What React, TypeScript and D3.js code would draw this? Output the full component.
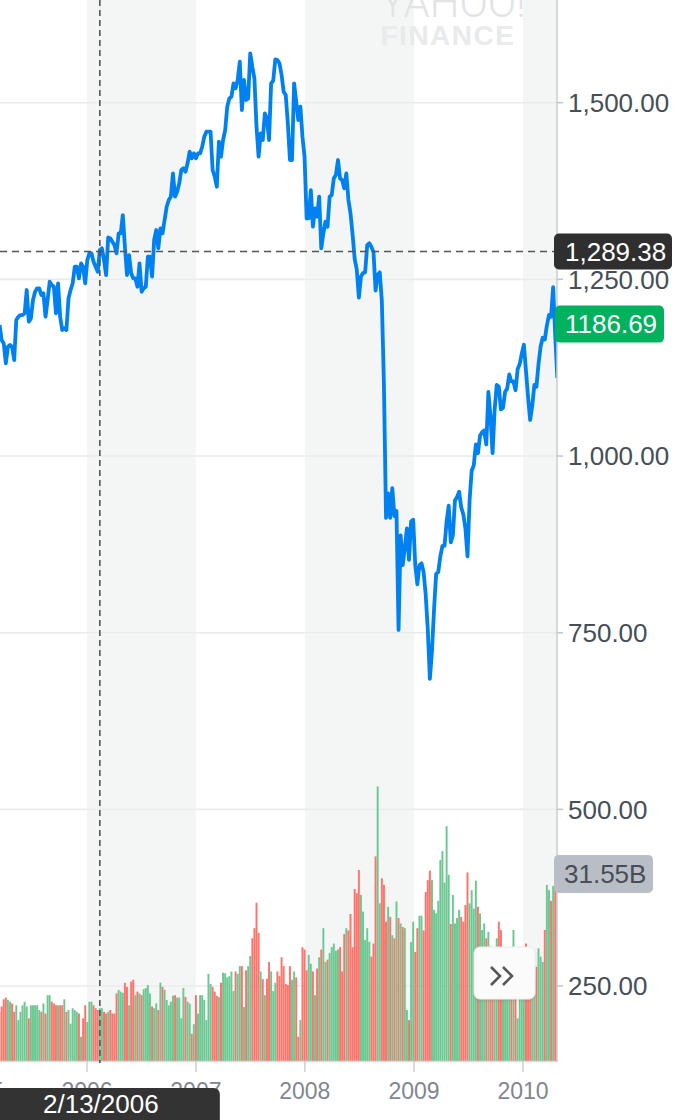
import React from "react";
import * as d3 from "d3";

// Weekly closes (index 0 = week of 2005-03-14)
const closes: number[] = [
  1185.4, 1164.2, 1159.4, 1131.1, 1154.7, 1157.1, 1154.7, 1135.8, 1192.5, 1197.2,
  1199.5, 1199.5, 1201.9, 1234.9, 1190.1, 1194.8, 1220.8, 1232.5, 1237.3, 1237.3,
  1227.8, 1230.2, 1197.2, 1220.8, 1246.7, 1242.0, 1239.6, 1201.9, 1244.3, 1197.2,
  1178.3, 1180.7, 1178.3, 1223.1, 1234.9, 1244.3, 1267.9, 1267.9, 1251.4, 1272.6,
  1267.9, 1244.3, 1277.4, 1286.8, 1286.8, 1275.0, 1267.9, 1260.8, 1291.5, 1293.9,
  1277.4, 1256.1, 1309.4, 1308.0, 1303.3, 1298.6, 1286.8, 1315.1, 1315.1, 1341.0,
  1296.2, 1256.1, 1284.4, 1258.5, 1251.4, 1251.4, 1239.6, 1272.6, 1232.5, 1237.3,
  1239.6, 1282.1, 1282.1, 1253.8, 1305.7, 1319.8, 1293.9, 1322.2, 1315.1, 1334.0,
  1352.8, 1362.3, 1367.0, 1400.0, 1367.0, 1374.1, 1385.8, 1404.7, 1407.1, 1402.4,
  1414.2, 1430.7, 1421.2, 1428.3, 1421.2, 1428.3, 1428.3, 1437.7, 1451.9, 1459.0,
  1459.0, 1459.0, 1404.7, 1395.3, 1381.1, 1444.8, 1423.6, 1447.2, 1461.3, 1494.3,
  1506.1, 1508.5, 1527.4, 1520.3, 1532.1, 1558.0, 1489.6, 1532.1, 1503.8, 1506.1,
  1569.8, 1550.9, 1534.4, 1466.0, 1423.6, 1456.6, 1447.2, 1484.9, 1477.8, 1447.2,
  1527.4, 1531.1, 1561.3, 1560.4, 1555.7, 1539.2, 1515.6, 1510.8, 1470.8, 1418.9,
  1418.9, 1527.4, 1501.4, 1475.5, 1494.3, 1451.9, 1423.6, 1336.3, 1336.3, 1376.4,
  1324.5, 1350.5, 1338.7, 1367.0, 1293.9, 1315.1, 1331.6, 1324.5, 1367.0, 1369.3,
  1392.9, 1397.6, 1418.9, 1392.9, 1390.6, 1378.8, 1400.0, 1362.3, 1343.4, 1313.4,
  1278.7, 1263.9, 1224.3, 1254.0, 1258.9, 1259.9, 1298.5, 1301.0, 1296.0, 1288.6,
  1234.2, 1256.4, 1259.9, 1219.3, 1100.5, 912.4, 947.1, 912.4, 954.5, 914.9,
  922.3, 754.0, 887.7, 845.6, 870.3, 897.6, 853.0, 907.5, 909.9, 845.6,
  818.4, 845.6, 848.1, 835.7, 803.5, 754.0, 684.7, 724.3, 783.7, 833.2,
  835.7, 858.0, 872.8, 872.8, 907.5, 929.7, 877.8, 887.7, 937.2, 942.1,
  949.5, 927.3, 917.4, 897.6, 858.0, 937.2, 979.2, 986.7, 1016.4, 1004.0,
  1028.7, 1033.7, 1036.2, 1016.4, 1090.6, 1056.0, 1004.0, 1065.9, 1100.5, 1098.0,
  1065.9, 1068.3, 1090.6, 1095.6, 1115.4, 1105.5, 1105.5, 1093.1, 1122.8, 1130.2,
  1145.1, 1157.4, 1120.3, 1083.2, 1051.0, 1070.8, 1100.5, 1098.0, 1130.2, 1155.0,
  1167.3, 1164.9, 1184.7, 1199.5, 1197.0, 1239.1, 1169.8, 1110.4,
];

// Weekly volume in billions
const volumes: number[] = [
  8.3, 9.2, 10.4, 10.7, 10.3, 10.0, 9.7, 8.3, 9.4, 6.9,
  8.3, 9.4, 10.0, 9.2, 7.2, 9.4, 9.4, 9.4, 9.4, 8.6,
  8.3, 9.7, 8.0, 11.1, 11.1, 10.0, 9.7, 9.4, 9.4, 9.4,
  9.4, 10.4, 8.3, 8.6, 6.3, 8.9, 8.6, 8.3, 8.0, 4.1,
  7.2, 9.4, 6.6, 10.0, 10.0, 9.4, 8.9, 8.6, 8.9, 8.9,
  8.3, 8.0, 8.3, 8.6, 8.0, 8.0, 11.4, 12.0, 11.7, 11.5,
  13.2, 12.5, 9.4, 13.4, 13.7, 11.1, 11.7, 11.4, 11.1, 12.1,
  12.3, 12.8, 11.4, 9.2, 8.9, 9.7, 8.6, 13.2, 12.5, 12.0,
  10.3, 9.4, 10.0, 11.0, 11.1, 10.7, 10.7, 7.2, 12.3, 10.8,
  10.0, 9.7, 4.6, 6.2, 11.1, 8.0, 11.1, 11.1, 10.3, 6.9,
  14.7, 13.0, 12.5, 11.7, 11.0, 10.8, 13.2, 14.9, 14.8, 14.1,
  14.3, 15.1, 11.8, 15.1, 14.7, 16.0, 16.0, 9.1, 15.3, 16.0,
  17.7, 20.7, 22.4, 26.7, 21.6, 15.1, 13.8, 11.1, 13.9, 16.7,
  15.1, 11.8, 13.2, 15.1, 14.3, 17.5, 16.0, 13.0, 12.8, 16.0,
  13.7, 15.1, 14.1, 4.1, 6.9, 19.2, 18.8, 15.3, 17.9, 16.4,
  15.1, 11.1, 15.6, 17.5, 18.8, 22.4, 16.7, 17.1, 18.2, 19.2,
  19.8, 18.6, 18.8, 19.2, 15.1, 21.4, 22.4, 22.0, 24.8, 19.2,
  29.0, 28.3, 32.2, 28.0, 25.2, 20.4, 22.4, 20.1, 17.6, 19.8,
  34.5, 46.3, 26.6, 30.8, 29.7, 23.5, 26.0, 24.3, 21.2, 20.7,
  26.9, 24.1, 23.2, 22.6, 22.4, 8.6, 6.9, 20.1, 23.5, 18.4,
  22.4, 24.5, 24.5, 22.0, 28.5, 30.5, 32.1, 30.5, 25.5, 24.9,
  27.0, 33.9, 35.4, 30.1, 39.6, 31.4, 23.1, 28.0, 23.2, 24.1,
  25.5, 24.3, 23.5, 26.3, 31.8, 26.6, 28.8, 25.7, 30.4, 26.0,
  24.9, 22.1, 23.2, 20.7, 21.8, 19.3, 16.5, 18.0, 20.7, 23.5,
  22.1, 16.0, 17.5, 14.5, 15.5, 17.0, 22.1, 15.0, 7.2, 15.9,
  17.0, 14.0, 19.8, 16.0, 15.0, 17.0, 13.7, 15.9, 19.0, 17.6,
  16.7, 22.1, 29.7, 28.8, 27.0, 29.5, 31.2, 31.55,
];

const priceTicks: number[] = [1500, 1250, 1000, 750, 500, 250];
const yearTicks: number[] = [2005, 2006, 2007, 2008, 2009, 2010];
const shadedYears: number[] = [2006, 2008, 2010];

const crosshairDate = new Date(2006, 1, 13);
const crosshairLabel = "2/13/2006";
const crosshairValue = 1289.38;
const lastPrice = 1186.69;
const lastVolumeLabel = "31.55B";

const W = 689;
const H = 1120;
const RIGHT = 557;
const VOL_BOTTOM = 1061;
const TAG_X = 554;
const FONT = "'Liberation Sans', Arial, Helvetica, sans-serif";

const dates = closes.map((_, i) => new Date(2005, 2, 14 + 7 * i));

export default function App() {
  const x = d3
    .scaleTime()
    .domain([new Date(2006, 0, 1), new Date(2010, 0, 1)])
    .range([87, 523]);
  const y = d3.scaleLinear().domain([250, 1500]).range([986, 102.7]);
  const v = d3.scaleLinear().domain([0, 50]).range([VOL_BOTTOM, VOL_BOTTOM - 296.5]);
  const fmt = d3.format(",.2f");

  const line = d3
    .line<number>()
    .x((_, i) => x(dates[i]))
    .y((d) => y(d));

  const barW = 1.95;
  const cx = x(crosshairDate);
  const cy = y(crosshairValue);
  const gy = y(lastPrice);
  const vy = v(volumes[volumes.length - 1]);

  return (
    <svg
      width={W}
      height={H}
      style={{ position: "absolute", left: 0, top: 0, background: "#fff" }}
      fontFamily={FONT}
    >
      <defs>
        <clipPath id="plot">
          <rect x={0} y={0} width={RIGHT} height={VOL_BOTTOM} />
        </clipPath>
        <filter id="shadow" x="-20%" y="-20%" width="140%" height="140%">
          <feDropShadow dx="0" dy="1" stdDeviation="1.5" floodColor="#000" floodOpacity="0.12" />
        </filter>
      </defs>
      <rect x={0} y={0} width={W} height={H} fill="#fff" />
      {/* year bands */}
      <g clipPath="url(#plot)">
        {shadedYears.map((yr) => (
          <rect
            key={yr}
            x={x(new Date(yr, 0, 1))}
            y={0}
            width={x(new Date(yr + 1, 0, 1)) - x(new Date(yr, 0, 1))}
            height={VOL_BOTTOM}
            fill="#f4f6f6"
          />
        ))}
      </g>
      {/* watermark */}
      <text x={453} y={17} textAnchor="middle" fontSize={42} fontFamily="Roboto, sans-serif" fontWeight={300} fill="#e2e3e5">
        YAHOO!
      </text>
      <text x={448} y={45} textAnchor="middle" fontSize={28} fontWeight={700} letterSpacing={1.5} fill="#e9eaec">
        FINANCE
      </text>
      {/* grid */}
      {priceTicks.map((t) => (
        <line key={t} x1={0} x2={RIGHT} y1={y(t)} y2={y(t)} stroke="#ebebeb" strokeWidth={1.6} />
      ))}
      {/* volume bars */}
      <g clipPath="url(#plot)">
        {volumes.map((vol, i) => {
          const up = i === 0 ? true : closes[i] >= closes[i - 1];
          return (
            <rect
              key={i}
              x={x(dates[i]) - barW / 2}
              y={v(vol)}
              width={barW}
              height={VOL_BOTTOM - v(vol)}
              fill={up ? "#6cc891" : "#ff736b"}
            />
          );
        })}
      </g>
      {/* price line */}
      <g clipPath="url(#plot)">
        <path d={line(closes) || ""} fill="none" stroke="#0081f2" strokeWidth={3.8} strokeLinejoin="round" />
      </g>
      {/* bottom axis */}
      <line x1={0} x2={RIGHT} y1={VOL_BOTTOM + 0.5} y2={VOL_BOTTOM + 0.5} stroke="#dcdcdc" strokeWidth={1.5} />
      {yearTicks.map((yr) => {
        const px = x(new Date(yr, 0, 1));
        return (
          <g key={yr}>
            <line x1={px} x2={px} y1={VOL_BOTTOM} y2={VOL_BOTTOM + 11} stroke="#cfcfcf" strokeWidth={1.5} />
            <text x={px} y={1099} textAnchor="middle" fontSize={23} fill="#80878f">
              {yr}
            </text>
          </g>
        );
      })}
      {/* right axis */}
      <line x1={RIGHT} x2={RIGHT} y1={0} y2={VOL_BOTTOM + 1} stroke="#cccccc" strokeWidth={1.5} />
      {priceTicks.map((t) => (
        <g key={t}>
          <line x1={RIGHT} x2={RIGHT + 6} y1={y(t)} y2={y(t)} stroke="#c4c4c4" strokeWidth={1.5} />
          <text x={568} y={y(t)} dy="0.36em" fontSize={26} fill="#464e56">
            {fmt(t)}
          </text>
        </g>
      ))}
      {/* crosshair */}
      <line x1={cx} x2={cx} y1={0} y2={VOL_BOTTOM + 2} stroke="#555" strokeWidth={1.6} strokeDasharray="6,4" />
      <line x1={0} x2={TAG_X} y1={cy} y2={cy} stroke="#555" strokeWidth={1.6} strokeDasharray="7,5" />
      {/* price tags */}
      <rect x={TAG_X} y={cy - 18} width={118} height={36} rx={5} fill="#2f2f2f" />
      <text x={565} y={cy} dy="0.36em" fontSize={26} fill="#fff">
        {fmt(crosshairValue)}
      </text>
      <rect x={TAG_X + 1} y={gy - 18.5} width={109} height={37} rx={5} fill="#00b15d" />
      <text x={565} y={gy} dy="0.36em" fontSize={26} fill="#fff">
        {lastPrice.toFixed(2)}
      </text>
      <rect x={TAG_X} y={vy - 19} width={99} height={38} rx={5} fill="#b9bec6" />
      <text x={564} y={vy} dy="0.36em" fontSize={26} fill="#464e56">
        {lastVolumeLabel}
      </text>
      {/* scroll button */}
      <g filter="url(#shadow)">
        <rect x={474} y={947} width={61} height={52} rx={6} fill="#fbfbfb" stroke="#ececec" />
      </g>
      <path d="M491,967 L500,976 L491,985 M503,967 L512,976 L503,985" fill="none" stroke="#555" strokeWidth={2.6} />
      {/* date tooltip */}
      <rect x={cx - 120} y={1088} width={240} height={44} rx={6} fill="#333" />
      <text x={cx + 1} y={1113} textAnchor="middle" fontSize={26} fill="#fff">
        {crosshairLabel}
      </text>
    </svg>
  );
}
